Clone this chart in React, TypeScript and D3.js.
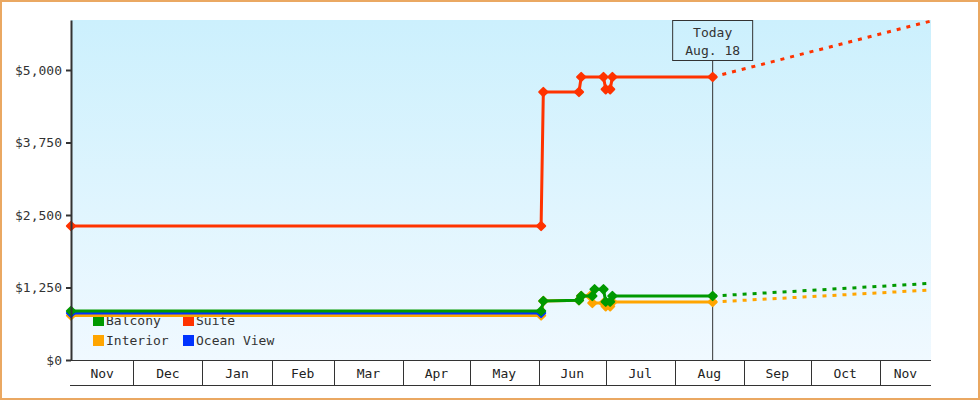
import { useEffect, useRef } from "react";
import * as d3 from "d3";

// x range of the chart and the "today" marker
const startDate = "2018-11-03";
const endDate = "2019-11-24";
const todayDate = "2019-08-18";
const todayLabel = ["Today", "Aug. 18"];

const monthLabels = ["Nov", "Dec", "Jan", "Feb", "Mar", "Apr", "May", "Jun", "Jul", "Aug", "Sep", "Oct", "Nov"];
const yTicks = [0, 1250, 2500, 3750, 5000];
const yMax = 5862;

// Suite
const suiteDates = ["2018-11-03", "2019-06-02", "2019-06-03", "2019-06-19", "2019-06-20", "2019-06-30", "2019-07-01", "2019-07-03", "2019-07-04", "2019-08-18"];
const suiteValues = [2310, 2310, 4621, 4621, 4879, 4879, 4667, 4667, 4879, 4879];
const suiteForecastDates = ["2019-08-18", "2019-11-24"];
const suiteForecastValues = [4879, 5845];

// Balcony
const balconyDates = ["2018-11-03", "2019-06-02", "2019-06-03", "2019-06-19", "2019-06-20", "2019-06-25", "2019-06-26", "2019-06-30", "2019-07-01", "2019-07-03", "2019-07-04", "2019-08-18"];
const balconyValues = [845, 845, 1017, 1030, 1103, 1103, 1219, 1219, 1005, 1005, 1103, 1103];
const balconyForecastDates = ["2019-08-18", "2019-11-24"];
const balconyForecastValues = [1103, 1322];

// Interior
const interiorDates = ["2018-11-03", "2019-06-02", "2019-06-03", "2019-06-19", "2019-06-20", "2019-06-24", "2019-06-25", "2019-06-30", "2019-07-01", "2019-07-03", "2019-07-04", "2019-08-18"];
const interiorValues = [767, 767, 1017, 1030, 1103, 1103, 983, 983, 925, 925, 1000, 1000];
const interiorForecastDates = ["2019-08-18", "2019-11-24"];
const interiorForecastValues = [1000, 1207];

// Ocean View
const oceanDates = ["2018-11-03", "2019-06-02"];
const oceanValues = [810, 810];

const legendNames = ["Balcony", "Suite", "Interior", "Ocean View"];
const colors: Record<string, string> = {
  Balcony: "#009900",
  Suite: "#ff3300",
  Interior: "#ffa500",
  "Ocean View": "#0033ff",
};

const font = "'DejaVu Sans Mono', monospace";

export default function App() {
  const ref = useRef<SVGSVGElement>(null);
  const width = 980;
  const height = 400;
  const margin = { top: 20, right: 49, bottom: 40, left: 71 };

  useEffect(() => {
    document.body.style.margin = "0";
    draw();
  });

  function draw() {
    const svg = d3.select(ref.current);
    svg.selectAll("*").remove();
    const parse = d3.timeParse("%Y-%m-%d");

    const x = d3
      .scaleTime()
      .domain([parse(startDate)!, parse(endDate)!])
      .range([margin.left, width - margin.right]);
    const y = d3
      .scaleLinear()
      .domain([0, yMax])
      .range([height - margin.bottom, margin.top]);
    const bottom = height - margin.bottom;

    const series = [
      { name: "Interior", dates: interiorDates, values: interiorValues, fDates: interiorForecastDates, fValues: interiorForecastValues },
      { name: "Ocean View", dates: oceanDates, values: oceanValues, fDates: [], fValues: [] },
      { name: "Balcony", dates: balconyDates, values: balconyValues, fDates: balconyForecastDates, fValues: balconyForecastValues },
      { name: "Suite", dates: suiteDates, values: suiteValues, fDates: suiteForecastDates, fValues: suiteForecastValues },
    ];

    // outer frame
    svg
      .append("rect")
      .attr("x", 1)
      .attr("y", 1)
      .attr("width", width - 2)
      .attr("height", height - 2)
      .attr("fill", "#fff")
      .attr("stroke", "#eaa862")
      .attr("stroke-width", 2);

    // plot background
    const grad = svg
      .append("defs")
      .append("linearGradient")
      .attr("id", "bg")
      .attr("x1", 0)
      .attr("y1", 0)
      .attr("x2", 0)
      .attr("y2", 1);
    grad.append("stop").attr("offset", "0%").attr("stop-color", "#ccf0fd");
    grad.append("stop").attr("offset", "100%").attr("stop-color", "#f0f9ff");
    svg
      .append("rect")
      .attr("x", margin.left)
      .attr("y", margin.top)
      .attr("width", width - margin.left - margin.right)
      .attr("height", bottom - margin.top)
      .attr("fill", "url(#bg)");

    // legend
    const legend = svg.append("g").attr("font-family", font).attr("font-size", 13);
    legendNames.forEach((name, i) => {
      const lx = 93 + (i % 2) * 90;
      const ly = 315 + Math.floor(i / 2) * 20;
      legend
        .append("rect")
        .attr("x", lx)
        .attr("y", ly)
        .attr("width", 11)
        .attr("height", 11)
        .attr("fill", colors[name]);
      legend
        .append("text")
        .attr("x", lx + 13)
        .attr("y", ly + 10)
        .attr("fill", "#333")
        .text(name);
    });

    // today marker
    const tx = x(parse(todayDate)!);
    svg
      .append("line")
      .attr("x1", tx)
      .attr("x2", tx)
      .attr("y1", 61)
      .attr("y2", bottom)
      .attr("stroke", "#333")
      .attr("stroke-width", 1);
    svg
      .append("rect")
      .attr("x", tx - 40)
      .attr("y", margin.top + 0.5)
      .attr("width", 80)
      .attr("height", 40)
      .attr("fill", "none")
      .attr("stroke", "#333")
      .attr("stroke-width", 1);
    svg
      .append("g")
      .attr("font-family", font)
      .attr("font-size", 13)
      .attr("fill", "#333")
      .attr("text-anchor", "middle")
      .selectAll("text")
      .data(todayLabel)
      .enter()
      .append("text")
      .attr("x", tx)
      .attr("y", (_d, i) => 37 + i * 18)
      .text((d) => d);

    // series
    const line = d3
      .line<[Date, number]>()
      .x((d) => x(d[0]))
      .y((d) => y(d[1]));
    const marker = d3.symbol(d3.symbolSquare, 34);

    series.forEach((s) => {
      const pts: [Date, number][] = s.dates.map((d, i) => [parse(d)!, s.values[i]]);
      const fpts: [Date, number][] = s.fDates.map((d, i) => [parse(d)!, s.fValues[i]]);
      const g = svg.append("g");
      if (fpts.length) {
        g.append("path")
          .attr("d", line(fpts))
          .attr("fill", "none")
          .attr("stroke", colors[s.name])
          .attr("stroke-width", 3)
          .attr("stroke-dasharray", "4,6");
      }
      g.append("path")
        .attr("d", line(pts))
        .attr("fill", "none")
        .attr("stroke", colors[s.name])
        .attr("stroke-width", 3);
      g.selectAll("path.pt")
        .data(pts)
        .enter()
        .append("path")
        .attr("class", "pt")
        .attr("d", marker()!)
        .attr("transform", (d) => `translate(${x(d[0])},${y(d[1])}) rotate(45)`)
        .attr("fill", colors[s.name])
        .attr("stroke", colors[s.name])
        .attr("stroke-width", 2)
        .attr("stroke-linejoin", "round");
    });

    // y axis
    const yAxis = d3
      .axisLeft(y)
      .tickValues(yTicks)
      .tickFormat((d) => "$" + d3.format(",")(d as number))
      .tickSize(5)
      .tickSizeOuter(0)
      .tickPadding(4);
    const ya = svg
      .append("g")
      .attr("transform", "translate(" + margin.left + ",0)")
      .call(yAxis);
    ya.select(".domain").attr("stroke", "#333").attr("stroke-width", 2);
    ya.selectAll(".tick line").attr("stroke", "#333").attr("stroke-width", 2);
    ya.selectAll(".tick text")
      .attr("font-family", font)
      .attr("font-size", 13)
      .attr("fill", "#333");

    // x axis: month bands
    const [d0, d1] = x.domain();
    const bounds = d3.timeMonth.range(d0, d1);
    const edges = [d0, ...bounds, d1];
    const xa = svg.append("g");
    xa.append("line")
      .attr("x1", margin.left - 1)
      .attr("x2", width - margin.right)
      .attr("y1", bottom + 0.5)
      .attr("y2", bottom + 0.5)
      .attr("stroke", "#333");
    xa.append("line")
      .attr("x1", margin.left - 1)
      .attr("x2", width - margin.right)
      .attr("y1", bottom + 25.5)
      .attr("y2", bottom + 25.5)
      .attr("stroke", "#333");
    xa.selectAll("line.sep")
      .data(bounds)
      .enter()
      .append("line")
      .attr("class", "sep")
      .attr("x1", (d) => Math.round(x(d)) + 0.5)
      .attr("x2", (d) => Math.round(x(d)) + 0.5)
      .attr("y1", bottom)
      .attr("y2", bottom + 25)
      .attr("stroke", "#333");
    xa.selectAll("text")
      .data(monthLabels)
      .enter()
      .append("text")
      .attr("x", (_d, i) => (x(edges[i]) + x(edges[i + 1])) / 2)
      .attr("y", bottom + 18)
      .attr("text-anchor", "middle")
      .attr("font-family", font)
      .attr("font-size", 13)
      .attr("fill", "#222")
      .text((d) => d);
  }

  return <svg width={width} height={height} ref={ref} style={{ display: "block" }}></svg>;
}
